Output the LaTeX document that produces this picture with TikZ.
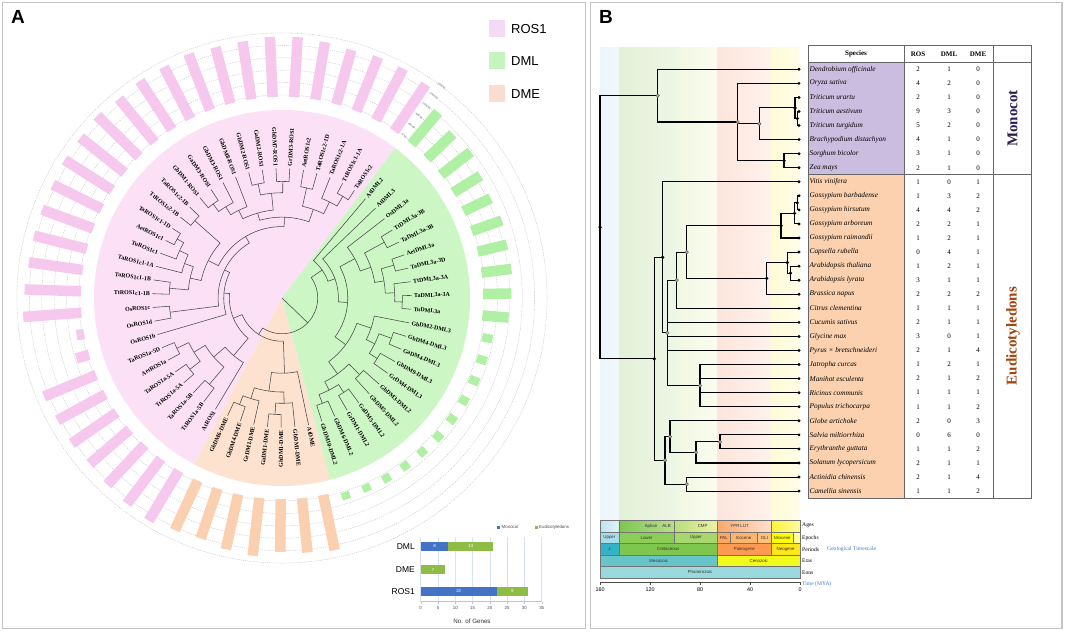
\documentclass[tikz,border=0pt]{standalone}
\usepackage{fontspec}
\setmainfont{Liberation Serif}
\newfontfamily\arialf{Liberation Sans}
\definecolor{secR}{HTML}{FCE1F6}
\definecolor{secG}{HTML}{CCF7C4}
\definecolor{secE}{HTML}{FDE3CF}
\definecolor{barR}{HTML}{F6C8EE}
\definecolor{barG}{HTML}{B0F0A4}
\definecolor{barE}{HTML}{FAD0B0}
\definecolor{legR}{HTML}{F4DAF4}
\definecolor{legG}{HTML}{C6F3C0}
\definecolor{legE}{HTML}{FBDCD2}
\definecolor{framec}{HTML}{C4C4C4}
\definecolor{chBlue}{HTML}{4472C4}
\definecolor{chGreen}{HTML}{8FBC45}
\definecolor{gridc}{HTML}{D5E3F3}
\definecolor{monoP}{HTML}{CBBDDF}
\definecolor{eudiO}{HTML}{FBD1AF}
\definecolor{monoT}{HTML}{2C1D52}
\definecolor{eudiT}{HTML}{A3420D}
\definecolor{geoBlue}{HTML}{3F7FCB}
% timescale colours
\definecolor{agJa}{HTML}{BEE3F0}\definecolor{agJb}{HTML}{E3F3F9}
\definecolor{agLa}{HTML}{7DC653}\definecolor{agLb}{HTML}{B9DF8C}
\definecolor{agUa}{HTML}{B9DF7A}\definecolor{agUb}{HTML}{EAF3A6}
\definecolor{agPa}{HTML}{FBA86D}\definecolor{agPb}{HTML}{FEE1CF}
\definecolor{agNa}{HTML}{FFF33A}\definecolor{agNb}{HTML}{FFFBA0}
\definecolor{epJ}{HTML}{A9DCEB}\definecolor{epL}{HTML}{8CCD57}\definecolor{epU}{HTML}{A6D86E}
\definecolor{epPal}{HTML}{FDA75F}\definecolor{epEo}{HTML}{FDB46C}\definecolor{epOl}{HTML}{FEC07A}
\definecolor{epMi}{HTML}{FFFF00}\definecolor{epPl}{HTML}{FFFF99}
\definecolor{peJ}{HTML}{34B2C9}\definecolor{peK}{HTML}{7FC64E}\definecolor{peP}{HTML}{FD9A52}\definecolor{peN}{HTML}{FFE619}
\definecolor{erM}{HTML}{67C5CA}\definecolor{erC}{HTML}{F2F91D}\definecolor{eoP}{HTML}{9AD9DD}
\definecolor{bgJa}{HTML}{EAF5FC}\definecolor{bgJb}{HTML}{F2F9FD}
\definecolor{bgKa}{HTML}{E3F1D8}\definecolor{bgKb}{HTML}{EEF6E6}
\definecolor{bgUa}{HTML}{F1F8E2}\definecolor{bgUb}{HTML}{FAFCEF}
\definecolor{bgPa}{HTML}{FDE5DC}\definecolor{bgPb}{HTML}{FEF2EC}
\definecolor{bgNa}{HTML}{FEFBD5}\definecolor{bgNb}{HTML}{FFFDE8}
\tikzset{
 treeA/.style={draw=black!72, line width=0.55pt},
 leaflab/.style={font=\bfseries\fontsize{6}{6}\selectfont, inner sep=0.4pt},
 ringline/.style={draw=black!25, line width=0.35pt, dash pattern=on 1.2pt off 1pt},
 btr/.style={draw=black, line width=1.05pt},
 leafdot/.style={circle, fill=black, inner sep=0pt, minimum size=3.2pt},
 ndb/.style={circle, fill=black, inner sep=0pt, minimum size=3.6pt},
 ndg/.style={circle, fill=black!35, draw=black!70, line width=0.3pt, inner sep=0pt, minimum size=3.6pt},
 tsbox/.style={draw=black!55, line width=0.3pt},
 tstext/.style={font=\arialf\fontsize{4.4}{5}\selectfont, text=black!80, inner sep=0pt},
 rowlab/.style={font=\fontsize{5.6}{6}\selectfont, anchor=west, inner sep=0pt},
 sptext/.style={font=\itshape\fontsize{7.3}{8}\selectfont, anchor=west, inner sep=0pt},
 numtext/.style={font=\fontsize{7}{8}\selectfont, inner sep=0pt},
 hdr/.style={font=\bfseries\fontsize{7}{8}\selectfont, inner sep=0pt},
 tabline/.style={draw=black!60, line width=0.8pt},
 chtext/.style={font=\arialf\fontsize{4.4}{5}\selectfont, text=black!70, inner sep=0pt},
 valtext/.style={font=\arialf\fontsize{4.4}{5}\selectfont, text=white, inner sep=0pt},
}
% circular tree helpers (angle of leaf k = 53 + 6.1017 (k+0.5))
\newcommand\cl[5]{%
 \pgfmathsetmacro\aA{53+6.1017*(#2+0.5)}%
 \pgfmathsetmacro\aB{53+6.1017*(#4+0.5)}%
 \draw[treeA] (\aA:#3) -- (\aA:#1) arc[start angle=\aA, end angle=\aB, radius=#1] -- (\aB:#5);}
\newcommand\lf[2]{%
 \pgfmathsetmacro\la{53+6.1017*(#1+0.5)}%
 \pgfmathtruncatemacro\lflip{cos(\la)<0 ? 1 : 0}%
 \ifnum\lflip=1
  \node[leaflab, anchor=east, rotate=\la+180] (L#1) at (\la:0.70) {#2};%
 \else
  \node[leaflab, anchor=west, rotate=\la] (L#1) at (\la:0.70) {#2};%
 \fi}
\newcommand\gb[3]{%
 \pgfmathsetmacro\ba{53+6.1017*(#1+0.5)}%
 \draw[line width=10.5pt,#3] (\ba:1.07) -- (\ba:#2);}
\newcommand\gsq[2]{%
 \pgfmathsetmacro\ba{53+6.1017*(#1+0.5)}%
 \draw[line width=8.5pt,barG] (\ba:1.085) -- (\ba:#2);}
\newcommand\tsb[6]{%
 \fill[#5] (#1,-#3) rectangle (#2,-#4);
 \draw[tsbox] (#1,-#3) rectangle (#2,-#4);
 \node[tstext] at ({(#1+#2)/2},{-(#3+#4)/2}) {#6};}
\newcommand\tsg[7]{%
 \shade[left color=#5, right color=#6] (#1,-#3) rectangle (#2,-#4);
 \draw[tsbox] (#1,-#3) rectangle (#2,-#4);
 \node[tstext] at ({(#1+#2)/2},{-(#3+#4)/2}) {#7};}
\begin{document}
\begin{tikzpicture}[x=1pt,y=1pt]
\useasboundingbox (0,0) rectangle (1065,-632);
\fill[white] (0,0) rectangle (1065,-632);
% panel frames
\draw[framec, line width=1.2pt] (2.5,-2.5) rectangle (585.5,-628.5);
\draw[framec, line width=1.2pt] (590.5,-2.5) rectangle (1062,-628.5);
\node[font=\arialf\bfseries\fontsize{19}{19}\selectfont, inner sep=0pt] (labA) at (18,-17) {A};
\node[font=\arialf\bfseries\fontsize{19}{19}\selectfont, inner sep=0pt] (labB) at (606,-17) {B};

% ================= PANEL A =================
\begin{scope}[shift={(282,-298)}, scale=188]
 \fill[secR] (0,0) -- (53:1) arc[start angle=53, end angle=242.15, radius=1] -- cycle;
 \fill[secE] (0,0) -- (242.15:1) arc[start angle=242.15, end angle=284.86, radius=1] -- cycle;
 \fill[secG] (0,0) -- (284.86:1) arc[start angle=284.86, end angle=413, radius=1] -- cycle;
 % rings
 \foreach \rr in {1.08,1.146,1.212,1.278,1.344,1.41} {\draw[ringline] (0,0) circle[radius=\rr];}
 \foreach \i/\t in {0/0 bp,1/400 bp,2/800 bp,3/1200 bp,4/1600 bp,5/2000 bp}
  {\node[font=\arialf\fontsize{2.6}{3}\selectfont, text=black!60, rotate=-37, inner sep=0pt] (rl\i) at (53:{1.08+0.066*\i}) {\t};}
 % bars
 \foreach \k/\o in {0/1.37,1/1.38,2/1.38,3/1.37,4/1.38,5/1.39,6/1.39,7/1.38,8/1.38,9/1.39,10/1.38,11/1.38,12/1.37,13/1.38,14/1.37,15/1.37,16/1.36,17/1.36,18/1.36,19/1.36,20/1.37,21/1.38,22/1.11,23/1.14,24/1.37,25/1.36,26/1.36,27/1.35,28/1.36,29/1.37,30/1.38}
  {\gb{\k}{\o}{barR}}
 \foreach \k/\o in {31/1.36,32/1.35,33/1.37,34/1.38,35/1.35,36/1.36,37/1.37}
  {\gb{\k}{\o}{barE}}
 \foreach \k/\o in {49/1.21,50/1.22,51/1.23,52/1.23,53/1.24,54/1.23,55/1.24,56/1.27,57/1.26,58/1.29}
  {\gb{\k}{\o}{barG}}
 \foreach \k/\o in {38/1.125,39/1.125,40/1.13,41/1.13,42/1.13,43/1.135,44/1.135,45/1.135,46/1.14,47/1.14,48/1.14}
  {\gsq{\k}{\o}}
 % tree: ROS1
 \cl{0.63}{0}{0.69}{1}{0.69}
 \cl{0.57}{2}{0.69}{0.5}{0.63}
 \cl{0.60}{3}{0.69}{4}{0.69}
 \cl{0.50}{1.25}{0.57}{3.5}{0.60}
 \cl{0.62}{5}{0.69}{6}{0.69}
 \cl{0.62}{7}{0.69}{8}{0.69}
 \cl{0.56}{5.5}{0.62}{7.5}{0.62}
 \cl{0.62}{11}{0.69}{12}{0.69}
 \cl{0.57}{10}{0.69}{11.5}{0.62}
 \cl{0.52}{9}{0.69}{10.75}{0.57}
 \cl{0.47}{6.5}{0.56}{9.875}{0.52}
 \cl{0.43}{2.375}{0.50}{8.1875}{0.47}
 \cl{0.62}{13}{0.69}{14}{0.69}
 \cl{0.64}{15}{0.69}{16}{0.69}
 \cl{0.60}{15.5}{0.64}{17}{0.69}
 \cl{0.55}{16.25}{0.60}{18}{0.69}
 \cl{0.60}{19}{0.69}{20}{0.69}
 \cl{0.50}{17.125}{0.55}{19.5}{0.60}
 \cl{0.44}{13.5}{0.62}{18.3125}{0.50}
 \cl{0.38}{5.28125}{0.43}{15.90625}{0.44}
 \cl{0.60}{21}{0.69}{22}{0.69}
 \cl{0.34}{10.59375}{0.38}{21.5}{0.60}
 \cl{0.31}{16.046875}{0.34}{23}{0.69}
 \cl{0.62}{24}{0.69}{25}{0.69}
 \cl{0.62}{26}{0.69}{27}{0.69}
 \cl{0.55}{24.5}{0.62}{26.5}{0.62}
 \cl{0.60}{28}{0.69}{29}{0.69}
 \cl{0.48}{25.5}{0.55}{28.5}{0.60}
 \cl{0.40}{27}{0.48}{30}{0.69}
 \cl{0.28}{19.5234}{0.31}{28.5}{0.40}
 % DME
 \cl{0.61}{31}{0.69}{32}{0.69}
 \cl{0.56}{31.5}{0.61}{33}{0.69}
 \cl{0.62}{34}{0.69}{35}{0.69}
 \cl{0.56}{34.5}{0.62}{36}{0.69}
 \cl{0.50}{32.25}{0.56}{35.25}{0.56}
 \cl{0.40}{33.75}{0.50}{37}{0.69}
 \cl{0.23}{24.0117}{0.28}{35.375}{0.40}
 % DML
 \cl{0.60}{38}{0.69}{39}{0.69}
 \cl{0.60}{40}{0.69}{41}{0.69}
 \cl{0.55}{38.5}{0.60}{40.5}{0.60}
 \cl{0.58}{42}{0.69}{43}{0.69}
 \cl{0.50}{39.5}{0.55}{42.5}{0.58}
 \cl{0.60}{44}{0.69}{45}{0.69}
 \cl{0.62}{46}{0.69}{47}{0.69}
 \cl{0.55}{44.5}{0.60}{46.5}{0.62}
 \cl{0.50}{45.5}{0.55}{48}{0.69}
 \cl{0.42}{41}{0.50}{46.75}{0.50}
 \cl{0.64}{49}{0.69}{50}{0.69}
 \cl{0.60}{49.5}{0.64}{51}{0.69}
 \cl{0.62}{52}{0.69}{53}{0.69}
 \cl{0.55}{50.25}{0.60}{52.5}{0.62}
 \cl{0.62}{54}{0.69}{55}{0.69}
 \cl{0.50}{51.375}{0.55}{54.5}{0.62}
 \cl{0.44}{52.9375}{0.50}{56}{0.69}
 \cl{0.35}{43.875}{0.42}{54.46875}{0.44}
 \cl{0.30}{49.171875}{0.35}{57}{0.69}
 \cl{0.26}{53.0859}{0.30}{58}{0.69}
 % root
 \cl{0.19}{29.6934}{0.23}{55.543}{0.26}
 \draw[treeA] (316.1:0.0) -- (316.1:0.19);
 % labels
 \lf{0}{TaROS1c2}\lf{1}{TtROS1c1-1A}\lf{2}{TaROS1c2-1A}\lf{3}{TaROS1c2-1D}
 \lf{4}{AetROS1c2}\lf{5}{GrDM3-ROS1}\lf{6}{GbDM7-ROS1}\lf{7}{GaDM2-ROS1}
 \lf{8}{GbDM2-ROS1}\lf{9}{GhDM8-ROS1}\lf{10}{GbDM3-ROS1}\lf{11}{GaDM3-ROS1}
 \lf{12}{GbDM1-ROS1}\lf{13}{TaROS1c2-1B}\lf{14}{TtROS1c2-1B}\lf{15}{TaROS1c1-1D}
 \lf{16}{AetROS1c1}\lf{17}{TuROS1c1}\lf{18}{TaROS1c1-1A}\lf{19}{TaROS1c1-1B}
 \lf{20}{TtROS1c1-1B}\lf{21}{OsROS1c}\lf{22}{OsROS1d}\lf{23}{OsROS1b}
 \lf{24}{TaROS1a-5D}\lf{25}{AetROS1a}\lf{26}{TaROS1a-5A}\lf{27}{TtROS1a-5A}
 \lf{28}{TaROS1a-5B}\lf{29}{TtROS1a-5B}\lf{30}{AtROS1}
 \lf{31}{GbDM6-DME}\lf{32}{GbDM4-DME}\lf{33}{GrDM1-DME}\lf{34}{GaDM1-DME}
 \lf{35}{GhDM1-DME}\lf{36}{GbDM1-DME}\lf{37}{AtDME}
 \lf{38}{GbDM10-DML2}\lf{39}{GbDM6-DML2}\lf{40}{GrDM1-DML2}\lf{41}{GaDM5-DML2}
 \lf{42}{GbDM5-DML2}\lf{43}{GbDM3-DML2}\lf{44}{GrDM4-DML3}\lf{45}{GbDM9-DML3}
 \lf{46}{GaDM4-DML3}\lf{47}{GbDM4-DML3}\lf{48}{GbDM2-DML3}\lf{49}{TuDML3a}
 \lf{50}{TaDML3a-3A}\lf{51}{TtDML3a-3A}\lf{52}{TaDML3a-3D}\lf{53}{AetDML3a}
 \lf{54}{TaDML3a-3B}\lf{55}{TtDML3a-3B}\lf{56}{OsDML3a}\lf{57}{AtDML3}\lf{58}{AtDML2}
\end{scope}

% legend A
\fill[legR] (489,-20) rectangle (505,-37);
\node[anchor=west, font=\arialf\fontsize{13}{13}\selectfont, inner sep=0pt] (lgR) at (511,-29) {ROS1};
\fill[legG] (489,-52) rectangle (505,-69);
\node[anchor=west, font=\arialf\fontsize{13}{13}\selectfont, inner sep=0pt] (lgG) at (511,-61) {DML};
\fill[legE] (489,-85) rectangle (505,-102);
\node[anchor=west, font=\arialf\fontsize{13}{13}\selectfont, inner sep=0pt] (lgE) at (511,-94) {DME};

% bar chart
\foreach \v in {0,5,...,35} {\draw[gridc, line width=0.45pt] ({420.7+3.457*\v},-537) -- ({420.7+3.457*\v},-601.7);}
\draw[draw=gridc!70!black!60, line width=0.5pt] (420.7,-601.7) -- (541.7,-601.7);
\foreach \v in {0,5,...,35} {
 \draw[gridc!70!black!60, line width=0.4pt] ({420.7+3.457*\v},-601.7) -- ({420.7+3.457*\v},-603.7);
 \node[chtext] (tk\v) at ({420.7+3.457*\v},-608) {\v};}
\fill[chBlue] (420.7,-541.7) rectangle (448.4,-550.7);
\fill[chGreen] (448.4,-541.7) rectangle (493.3,-550.7);
\fill[chGreen] (420.7,-565) rectangle (444.9,-574);
\fill[chBlue] (420.7,-586.7) rectangle (496.8,-595.7);
\fill[chGreen] (496.8,-586.7) rectangle (527.9,-595.7);
\node[valtext] (v1) at (434.5,-546.2) {8};
\node[valtext] (v2) at (470.9,-546.2) {13};
\node[valtext] (v3) at (432.8,-569.5) {7};
\node[valtext] (v4) at (458.7,-591.2) {22};
\node[valtext] (v5) at (512.3,-591.2) {9};
\node[anchor=east, font=\arialf\fontsize{8.5}{9}\selectfont, inner sep=0pt] (cDML) at (415,-546.2) {DML};
\node[anchor=east, font=\arialf\fontsize{8.5}{9}\selectfont, inner sep=0pt] (cDME) at (415,-569.5) {DME};
\node[anchor=east, font=\arialf\fontsize{8.5}{9}\selectfont, inner sep=0pt] (cROS) at (415,-591.2) {ROS1};
\node[font=\arialf\fontsize{6.2}{7}\selectfont, text=black!80, inner sep=0pt] (xlab) at (472,-621) {No. of Genes};
\fill[chBlue] (497,-525.5) rectangle (500,-528.5);
\node[chtext, anchor=west] (lgMono) at (501.5,-527) {Monocot};
\fill[chGreen] (534.5,-525.5) rectangle (537.5,-528.5);
\node[chtext, anchor=west] (lgEudi) at (539,-527) {Eudicotyledons};

% ================= PANEL B =================
% background bands
\shade[left color=bgJa, right color=bgJb] (600,-47) rectangle (618.75,-520);
\shade[left color=bgKa, right color=bgKb] (618.75,-47) rectangle (677,-520);
\shade[left color=bgUa, right color=bgUb] (677,-47) rectangle (717.5,-520);
\shade[left color=bgPa, right color=bgPb] (717.5,-47) rectangle (771.25,-520);
\shade[left color=bgNa, right color=bgNb] (771.25,-47) rectangle (800,-520);

% tree B coordinates
\foreach \i in {0,...,30} {\coordinate (bl\i) at (799,{-(69.3+14.06*\i)});}
\coordinate (bR) at (600,-227.2);
\coordinate (bM0) at (657.7,-95.65);
\coordinate (bM1) at (737.7,-122.0);
\coordinate (bM2) at (759.3,-123.8);
\coordinate (bT) at (795,-107.96);
\coordinate (bT2) at (797.3,-118.5);
\coordinate (bM3) at (784,-160.7);
\coordinate (bE) at (654.3,-358.8);
\coordinate (bE1) at (662.7,-257.3);
\coordinate (bE3) at (667.3,-332.9);
\coordinate (bE5) at (676.7,-280.2);
\coordinate (bE6) at (686.7,-252.05);
\coordinate (bE7) at (781,-225.7);
\coordinate (bE9) at (794.5,-213.4);
\coordinate (bE10) at (797.3,-202.87);
\coordinate (bE8) at (766.7,-278.4);
\coordinate (bE11) at (787.3,-262.6);
\coordinate (bE12) at (790.5,-273.17);
\coordinate (bR2) at (700,-385.65);
\coordinate (bB0) at (665,-460.3);
\coordinate (bB1) at (670,-436.6);
\coordinate (bB3) at (696,-452.4);
\coordinate (bB4) at (720,-441.9);
\coordinate (bB2) at (686.7,-484.07);
\foreach \p/\c in {bR/bM0,bR/bE,bM0/bl0,bM0/bM1,bM1/bl1,bM1/bM2,bM1/bM3,bM2/bT,bM2/bl5,bT/bl2,bT/bT2,bT2/bl3,bT2/bl4,bM3/bl6,bM3/bl7,
 bE/bE1,bE/bB0,bE1/bl8,bE1/bE3,bE3/bE5,bE3/bl18,bE3/bl19,bE3/bl20,bE3/bR2,bE5/bE6,bE5/bl17,bE6/bE7,bE6/bE8,bE7/bE9,bE7/bl12,bE9/bE10,bE9/bl11,bE10/bl9,bE10/bl10,
 bE8/bE11,bE8/bl16,bE11/bl13,bE11/bE12,bE12/bl14,bE12/bl15,bR2/bl21,bR2/bl22,bR2/bl23,bR2/bl24,
 bB0/bB1,bB0/bB2,bB1/bl25,bB1/bB3,bB3/bB4,bB3/bl28,bB4/bl26,bB4/bl27,bB2/bl29,bB2/bl30}
 {\draw[btr] (\p) |- (\c);}
\foreach \i in {0,...,30} {\node[leafdot] (bd\i) at (bl\i) {};}
\foreach \n in {bR,bE,bE1,bM3,bE7,bE8,bE11,bE12,bT,bT2,bE9,bE10} {\node[ndb] (d\n) at (\n) {};}
\foreach \n in {bM0,bM1,bM2,bE3,bE5,bE6,bR2,bB0,bB1,bB3,bB4,bB2} {\node[ndg] (d\n) at (\n) {};}

% geological timescale
\tsg{600}{618.75}{520}{532}{agJa}{agJb}{}
\tsg{618.75}{674.4}{520}{532}{agLa}{agLb}{}
\node[tstext] (tApt) at (651,-526) {Aptian};
\node[tstext] (tAlb) at (666.6,-526) {ALB};
\tsg{674.4}{717.5}{520}{532}{agUa}{agUb}{}
\node[tstext] (tCmp) at (702.7,-526) {CMP};
\tsg{717.5}{771.25}{520}{532}{agPa}{agPb}{}
\node[tstext] (tYpr) at (735,-526) {YPR};
\node[tstext] (tLut) at (744.6,-526) {LUT};
\tsg{771.25}{800}{520}{532}{agNa}{agNb}{}
\tsb{600}{618.75}{532}{543.5}{epJ}{Upper}
\tsb{618.75}{674.4}{532}{543.5}{epL}{Lower}
\tsb{674.4}{717.5}{532}{543.5}{epU}{Upper}
\tsb{717.5}{730}{532}{543.5}{epPal}{PAL}
\tsb{730}{757.6}{532}{543.5}{epEo}{Eocene}
\tsb{757.6}{771.25}{532}{543.5}{epOl}{OLI}
\tsb{771.25}{793.4}{532}{543.5}{epMi}{Miocene}
\tsb{793.4}{800}{532}{543.5}{epPl}{}
\tsb{600}{618.75}{543.5}{555}{peJ}{J}
\tsb{618.75}{717.5}{543.5}{555}{peK}{Cretaceous}
\tsb{717.5}{771.25}{543.5}{555}{peP}{Paleogene}
\tsb{771.25}{800}{543.5}{555}{peN}{Neogene}
\tsb{600}{717.5}{555}{566.5}{erM}{Mesozoic}
\tsb{717.5}{800}{555}{566.5}{erC}{Cenozoic}
\tsb{600}{800}{566.5}{578}{eoP}{Phanerozoic}
\draw[black!70, line width=0.5pt] (600,-582) -- (800,-582);
\foreach \a/\x in {160/600,120/650,80/700,40/750,0/800} {
 \draw[black!70, line width=0.5pt] (\x,-582) -- (\x,-585);
 \node[font=\arialf\fontsize{5.4}{6}\selectfont, inner sep=0pt] (ax\a) at (\x,-590) {\a};}
\node[rowlab] (rAges) at (802,-525.5) {Ages};
\node[rowlab] (rEpo) at (802,-537.7) {Epochs};
\node[rowlab] (rPer) at (802,-549.5) {Periods};
\node[rowlab, text=geoBlue] (rGeo) at (827,-549.5) {Geological Timescale};
\node[rowlab] (rEra) at (802,-561) {Eras};
\node[rowlab] (rEon) at (802,-572.5) {Eons};
\node[rowlab, text=geoBlue] (rTime) at (802,-584) {Time (MYA)};

% table
\fill[monoP] (808,-62.27) rectangle (904.3,-174.75);
\fill[eudiO] (808,-174.75) rectangle (904.3,-498.1);
\draw[tabline] (808,-45) rectangle (1031,-498.1);
\draw[tabline] (904.3,-45) -- (904.3,-498.1);
\draw[tabline] (993,-45) -- (993,-498.1);
\draw[tabline] (808,-62.27) -- (1031,-62.27);
\draw[tabline] (808,-174.75) -- (1031,-174.75);
\node[hdr] (hSp) at (856,-54) {Species};
\node[hdr] (hRos) at (918,-54) {ROS};
\node[hdr] (hDml) at (949,-54) {DML};
\node[hdr] (hDme) at (978,-54) {DME};
\foreach \i/\sp/\ra/\rb/\rc in {0/Dendrobium officinale/2/1/0,1/Oryza sativa/4/2/0,2/Triticum urartu/2/1/0,3/Triticum aestivum/9/3/0,
 4/Triticum turgidum/5/2/0,5/Brachypodium distachyon/4/1/0,6/Sorghum bicolor/3/1/0,7/Zea mays/2/1/0,
 8/Vitis vinifera/1/0/1,9/Gossypium barbadense/1/3/2,10/Gossypium hirsutum/4/4/2,11/Gossypium arboreum/2/2/1,
 12/Gossypium raimondii/1/2/1,13/Capsella rubella/0/4/1,14/Arabidopsis thaliana/1/2/1,15/Arabidopsis lyrata/3/1/1,
 16/Brassica napus/2/2/2,17/Citrus clementina/1/1/1,18/Cucumis sativus/2/1/1,19/Glycine max/3/0/1,
 20/Pyrus × bretschneideri/2/1/4,21/Jatropha curcas/1/2/1,22/Manihot esculenta/2/1/2,23/Ricinus communis/1/1/1,
 24/Populus trichocarpa/1/1/2,25/Globe artichoke/2/0/3,26/Salvia miltiorrhiza/0/6/0,27/Erythranthe guttata/1/1/2,
 28/Solanum lycopersicum/2/1/1,29/Actinidia chinensis/2/1/4,30/Camellia sinensis/1/1/2}
 {\pgfmathsetmacro\yy{-(69.3+14.06*\i)}
  \node[sptext] (sp\i) at (809.5,\yy) {\sp};
  \node[numtext] (na\i) at (918,\yy) {\ra};
  \node[numtext] (nb\i) at (949,\yy) {\rb};
  \node[numtext] (nc\i) at (978,\yy) {\rc};}
\node[rotate=90, font=\bfseries\fontsize{15}{15}\selectfont, text=monoT, inner sep=0pt] (gMono) at (1012.5,-118.5) {Monocot};
\node[rotate=90, font=\bfseries\fontsize{15}{15}\selectfont, text=eudiT, inner sep=0pt] (gEudi) at (1013,-336) {Eudicotyledons};
\end{tikzpicture}
\end{document}
